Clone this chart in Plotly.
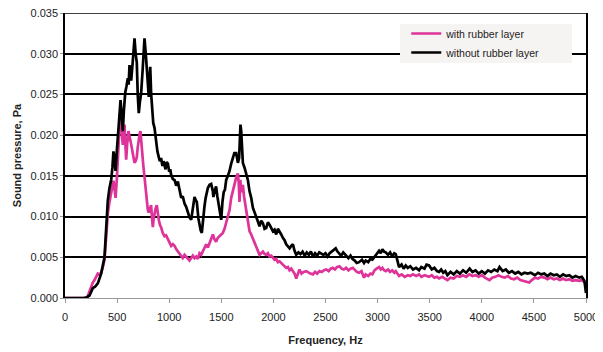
import plotly.graph_objects as go

# ---- data ----
freq_without = [0, 100, 180, 210, 235, 267, 290, 315, 347, 379, 395, 411, 427, 443, 455, 465, 475, 485, 497, 507,
                520, 533, 545, 555, 565, 578, 590, 603, 611, 619, 627, 635, 650, 660, 667, 678, 689, 698, 708, 718,
                731, 745, 755, 763, 775, 785, 795, 804, 811, 818, 827, 837, 847, 859, 867, 875, 887, 900, 910, 922,
                935, 945, 955, 965, 975, 987, 1000, 1010, 1019, 1035, 1051, 1067, 1083, 1100, 1115, 1130, 1147, 1163,
                1179, 1195, 1211, 1227, 1243, 1255, 1265, 1280, 1291, 1302, 1313, 1325, 1339, 1350, 1371, 1387, 1403,
                1419, 1424, 1437, 1450, 1462, 1475, 1488, 1499, 1511, 1523, 1535, 1547, 1563, 1579, 1595, 1611, 1625,
                1643, 1659, 1671, 1684, 1691, 1700, 1707, 1723, 1739, 1755, 1771, 1787, 1803, 1820, 1835, 1851, 1867,
                1883, 1899, 1915, 1931, 1947, 1963, 1979, 1995, 2011, 2027, 2043, 2059, 2075, 2091, 2107, 2123, 2139,
                2155, 2171, 2187, 2203, 2219, 2240, 2260, 2280, 2300, 2320, 2340, 2360, 2380, 2400, 2420, 2440, 2460,
                2480, 2500, 2520, 2540, 2560, 2580, 2598, 2615, 2630, 2650, 2670, 2694, 2720, 2740, 2758, 2780, 2800,
                2822, 2850, 2870, 2886, 2910, 2930, 2950, 2975, 2995, 3014, 3030, 3046, 3062, 3078, 3100, 3120, 3140,
                3160, 3174, 3190, 3206, 3230, 3250, 3270, 3290, 3314, 3340, 3370, 3398, 3420, 3450, 3470, 3494, 3520,
                3545, 3570, 3590, 3610, 3630, 3650, 3670, 3700, 3730, 3760, 3790, 3820, 3850, 3883, 3910, 3940, 3970,
                4000, 4030, 4060, 4090, 4120, 4150, 4170, 4200, 4230, 4260, 4290, 4320, 4350, 4380, 4410, 4440, 4470,
                4510, 4540, 4570, 4600, 4630, 4660, 4690, 4720, 4750, 4780, 4810, 4840, 4870, 4900, 4935, 4960, 4985,
                5000]
p_without = [0, 0, 0, 0.0001, 0.0003, 0.0012, 0.0014, 0.0018, 0.003, 0.005, 0.008, 0.012, 0.0135, 0.0145, 0.016,
             0.018, 0.0172, 0.0156, 0.018, 0.0194, 0.022, 0.0243, 0.022, 0.0205, 0.023, 0.0252, 0.026, 0.027, 0.0262,
             0.0286, 0.0275, 0.0267, 0.029, 0.031, 0.0319, 0.030, 0.0289, 0.025, 0.0227, 0.024, 0.0252, 0.028, 0.031,
             0.0319, 0.030, 0.0284, 0.026, 0.0247, 0.027, 0.0284, 0.025, 0.0227, 0.0215, 0.0209, 0.0198, 0.019,
             0.018, 0.0173, 0.0168, 0.0172, 0.0162, 0.0168, 0.0163, 0.0158, 0.0167, 0.0165, 0.0155, 0.0158, 0.0151,
             0.0146, 0.0145, 0.0138, 0.0143, 0.013, 0.0123, 0.0125, 0.0116, 0.0112, 0.0104, 0.0099, 0.0096, 0.011,
             0.0124, 0.012, 0.0118, 0.0098, 0.0087, 0.0083, 0.008, 0.0098, 0.0113, 0.0123, 0.0135, 0.0139, 0.014,
             0.0131, 0.0124, 0.0132, 0.0137, 0.0125, 0.0113, 0.0102, 0.0096, 0.0118, 0.013, 0.0133, 0.0145, 0.015,
             0.0156, 0.0165, 0.0174, 0.0178, 0.0178, 0.0166, 0.0172, 0.0213, 0.0205, 0.018, 0.0166, 0.016, 0.0152,
             0.0145, 0.0131, 0.0123, 0.0111, 0.0104, 0.0098, 0.0094, 0.0088, 0.0095, 0.0092, 0.0085, 0.0086, 0.0093,
             0.009, 0.0085, 0.0082, 0.0084, 0.0078, 0.0085, 0.0082, 0.0078, 0.0074, 0.0071, 0.0066, 0.0063, 0.0061,
             0.0064, 0.0066, 0.0058, 0.0053, 0.0056, 0.0054, 0.0057, 0.0052, 0.0056, 0.0053, 0.0057, 0.0051, 0.0055,
             0.0052, 0.0056, 0.0054, 0.0053, 0.0055, 0.0051, 0.0055, 0.0057, 0.0059, 0.0061, 0.0057, 0.0055, 0.0052,
             0.0056, 0.0053, 0.0049, 0.0052, 0.0048, 0.0046, 0.0043, 0.0044, 0.0047, 0.0043, 0.0046, 0.0044, 0.0048,
             0.0047, 0.0051, 0.0054, 0.0058, 0.0055, 0.006, 0.0057, 0.0056, 0.0053, 0.0056, 0.0051, 0.0055, 0.0054,
             0.0047, 0.0038, 0.0041, 0.0036, 0.004, 0.0037, 0.0039, 0.0035, 0.0037, 0.0034, 0.0038, 0.0036, 0.0041,
             0.004, 0.0035, 0.0037, 0.0033, 0.0032, 0.0035, 0.0031, 0.0033, 0.0028, 0.0032, 0.0029, 0.0033, 0.003,
             0.0034, 0.0031, 0.0036, 0.0032, 0.0034, 0.003, 0.0033, 0.003, 0.0034, 0.0032, 0.0035, 0.0033, 0.0038,
             0.0033, 0.0035, 0.0031, 0.0033, 0.003, 0.0032, 0.0029, 0.0031, 0.003, 0.0031, 0.0028, 0.0031, 0.0029,
             0.003, 0.0027, 0.003, 0.0028, 0.0029, 0.0026, 0.0029, 0.0027, 0.0028, 0.0025, 0.0027, 0.0025, 0.0026,
             0.0021, 0.0006]

freq_with = [0, 100, 200, 214, 235, 251, 267, 283, 300, 315, 330, 347, 363, 379, 395, 411, 427, 443, 455, 465, 475,
             485, 497, 507, 515, 523, 531, 539, 547, 555, 563, 571, 579, 587, 597, 609, 617, 624, 633, 643, 655, 667,
             678, 689, 698, 708, 717, 724, 732, 740, 746, 752, 762, 772, 779, 785, 795, 804, 815, 826, 835, 843, 851,
             859, 870, 881, 890, 900, 911, 922, 938, 955, 970, 987, 1003, 1019, 1035, 1051, 1067, 1083, 1099, 1115,
             1130, 1147, 1163, 1179, 1195, 1211, 1227, 1243, 1259, 1275, 1291, 1307, 1323, 1339, 1355, 1371, 1387,
             1403, 1419, 1435, 1450, 1467, 1483, 1499, 1515, 1531, 1547, 1563, 1579, 1595, 1611, 1627, 1643, 1659,
             1667, 1675, 1683, 1691, 1700, 1707, 1718, 1727, 1739, 1755, 1771, 1787, 1803, 1819, 1835, 1851, 1867,
             1883, 1899, 1915, 1931, 1947, 1963, 1979, 1995, 2011, 2027, 2043, 2059, 2075, 2091, 2107, 2123, 2139,
             2155, 2171, 2187, 2203, 2219, 2235, 2250, 2270, 2290, 2315, 2335, 2355, 2379, 2400, 2420, 2443, 2465,
             2485, 2507, 2530, 2550, 2570, 2590, 2610, 2634, 2655, 2675, 2698, 2720, 2740, 2762, 2785, 2800, 2822,
             2845, 2870, 2886, 2910, 2930, 2950, 2970, 2990, 3014, 3030, 3046, 3062, 3078, 3100, 3120, 3140, 3160,
             3174, 3190, 3206, 3230, 3260, 3290, 3314, 3340, 3370, 3398, 3420, 3450, 3470, 3494, 3520, 3545, 3570,
             3590, 3620, 3650, 3670, 3700, 3730, 3760, 3790, 3820, 3850, 3880, 3910, 3940, 3970, 4000, 4030, 4073,
             4100, 4130, 4160, 4190, 4220, 4250, 4280, 4310, 4340, 4370, 4400, 4430, 4455, 4480, 4510, 4540, 4570,
             4600, 4630, 4660, 4690, 4720, 4750, 4780, 4810, 4840, 4870, 4900, 4935, 4960, 4985, 5000]
p_with = [0, 0, 0, 0.0001, 0.0008, 0.0014, 0.0019, 0.0022, 0.0026, 0.003, 0.0029, 0.0031, 0.0038, 0.0047, 0.0075,
          0.0104, 0.0118, 0.0128, 0.0138, 0.0144, 0.0135, 0.0123, 0.0145, 0.0165, 0.019, 0.0213, 0.022, 0.0225,
          0.020, 0.0188, 0.020, 0.0213, 0.019, 0.017, 0.019, 0.0205, 0.020, 0.0197, 0.019, 0.0183, 0.0172, 0.0166,
          0.0168, 0.0173, 0.0185, 0.0197, 0.0202, 0.0205, 0.019, 0.0173, 0.0168, 0.0162, 0.015, 0.0138, 0.0125,
          0.0114, 0.0108, 0.0105, 0.011, 0.0114, 0.0098, 0.0087, 0.0098, 0.0105, 0.011, 0.0114, 0.0102, 0.0096,
          0.009, 0.0087, 0.008, 0.0076, 0.0077, 0.0072, 0.0068, 0.0064, 0.0066, 0.0064, 0.006, 0.0057, 0.0055,
          0.0052, 0.0049, 0.0053, 0.0051, 0.0048, 0.0046, 0.0049, 0.0052, 0.0049, 0.0051, 0.0048, 0.0055, 0.0053,
          0.0057, 0.006, 0.0066, 0.0062, 0.0068, 0.0073, 0.0078, 0.0072, 0.0069, 0.0074, 0.0076, 0.0078, 0.008,
          0.0085, 0.0092, 0.0098, 0.0108, 0.0123, 0.0132, 0.0143, 0.0148, 0.0153, 0.0142, 0.0118, 0.0145, 0.013,
          0.0136, 0.0139, 0.0125, 0.0118, 0.0111, 0.0095, 0.0082, 0.0078, 0.0074, 0.0068, 0.0063, 0.0059, 0.0053,
          0.0055, 0.0057, 0.0054, 0.0053, 0.0055, 0.0051, 0.0052, 0.0049, 0.0047, 0.0048, 0.0044, 0.0045, 0.0043,
          0.004, 0.0039, 0.0037, 0.0038, 0.0034, 0.0036, 0.0033, 0.003, 0.0024, 0.0031, 0.0035, 0.003, 0.0032,
          0.0033, 0.0031, 0.003, 0.0029, 0.0032, 0.003, 0.0033, 0.0032, 0.0034, 0.0035, 0.0033, 0.0036, 0.0037,
          0.0035, 0.0038, 0.0039, 0.0036, 0.0035, 0.0037, 0.0034, 0.0036, 0.0037, 0.0034, 0.0032, 0.0031, 0.0033,
          0.0025, 0.0029, 0.0027, 0.003, 0.0029, 0.0034, 0.0036, 0.0038, 0.0035, 0.0037, 0.0034, 0.0033, 0.0035,
          0.0032, 0.0034, 0.0031, 0.0033, 0.003, 0.0027, 0.0029, 0.0026, 0.0028, 0.0027, 0.0029, 0.0027, 0.0029,
          0.0026, 0.0028, 0.0027, 0.0026, 0.0028, 0.0025, 0.0026, 0.0024, 0.0026, 0.0024, 0.0022, 0.0025, 0.0024,
          0.0027, 0.0026, 0.0028, 0.0026, 0.0029, 0.0027, 0.0028, 0.0026, 0.0028, 0.0025, 0.0022, 0.0025, 0.0026,
          0.0028, 0.0026, 0.0025, 0.0027, 0.0024, 0.0023, 0.0025, 0.0022, 0.0021, 0.0020, 0.0019, 0.0022, 0.0025,
          0.0024, 0.0026, 0.0025, 0.0023, 0.0025, 0.0023, 0.0024, 0.0022, 0.0024, 0.0022, 0.0023, 0.0021, 0.0022,
          0.0021, 0.0022, 0.0020, 0.0018]

series_names = ["with rubber layer", "without rubber layer"]
x_ticks = [0, 500, 1000, 1500, 2000, 2500, 3000, 3500, 4000, 4500, 5000]
y_ticks = [0.000, 0.005, 0.010, 0.015, 0.020, 0.025, 0.030, 0.035]
y_max = 0.035

FONT = "Liberation Sans, Arial, sans-serif"

fig = go.Figure()
fig.add_trace(go.Scatter(x=freq_with, y=p_with, mode="lines", name=series_names[0],
                         line=dict(color="#de3399", width=2.7)))
fig.add_trace(go.Scatter(x=freq_without, y=p_without, mode="lines", name=series_names[1],
                         line=dict(color="#000000", width=2.7)))

# the page body has an 8px default margin, so the figure is 8px smaller than the window
fig.update_layout(
    width=595, height=344,
    margin=dict(l=57, r=17, t=5, b=54, autoexpand=False),
    paper_bgcolor="white", plot_bgcolor="white",
    font=dict(family=FONT, size=11, color="#222"),
    showlegend=True,
    legend=dict(x=0.655, y=0.979, xanchor="left", yanchor="top",
                bgcolor="rgba(0,0,0,0)", borderwidth=0,
                font=dict(family=FONT, size=10.5, color="#222"),
                itemwidth=30, tracegroupgap=0),
    shapes=[
        # top border of the plot area (gridline at the top value)
        dict(type="line", xref="paper", yref="y", x0=0, x1=1, y0=y_max, y1=y_max,
             line=dict(color="#000000", width=1.5), layer="above"),
        # legend background panel
        dict(type="rect", xref="paper", yref="paper", x0=0.643, x1=0.973, y0=0.825, y1=0.961,
             fillcolor="#f6f4f3", line=dict(width=0), layer="above"),
    ],
    xaxis=dict(range=[0, 5000], tickvals=x_ticks, ticktext=[str(v) for v in x_ticks],
               showgrid=False, zeroline=False, automargin=False, ticklabeloverflow="allow",
               showline=True, linecolor="#999999", linewidth=1, ticklabelstandoff=5,
               ticks="outside", tickcolor="#999999", ticklen=4, tickwidth=1,
               title=dict(text="<b>Frequency, Hz</b>", font=dict(family=FONT, size=11, color="#222"), standoff=14)),
    yaxis=dict(range=[0, y_max], tickvals=y_ticks, tickformat=".3f", automargin=False,
               ticklabeloverflow="allow",
               showgrid=True, gridcolor="#000000", gridwidth=1.5, zeroline=False,
               showline=True, linecolor="#000000", linewidth=1.5, mirror=True,
               ticks="outside", tickcolor="#999999", ticklen=3, tickwidth=1,
               title=dict(text="<b>Sound pressure, Pa</b>", font=dict(family=FONT, size=11, color="#222"), standoff=7)),
)

fig.write_html("out.html")
